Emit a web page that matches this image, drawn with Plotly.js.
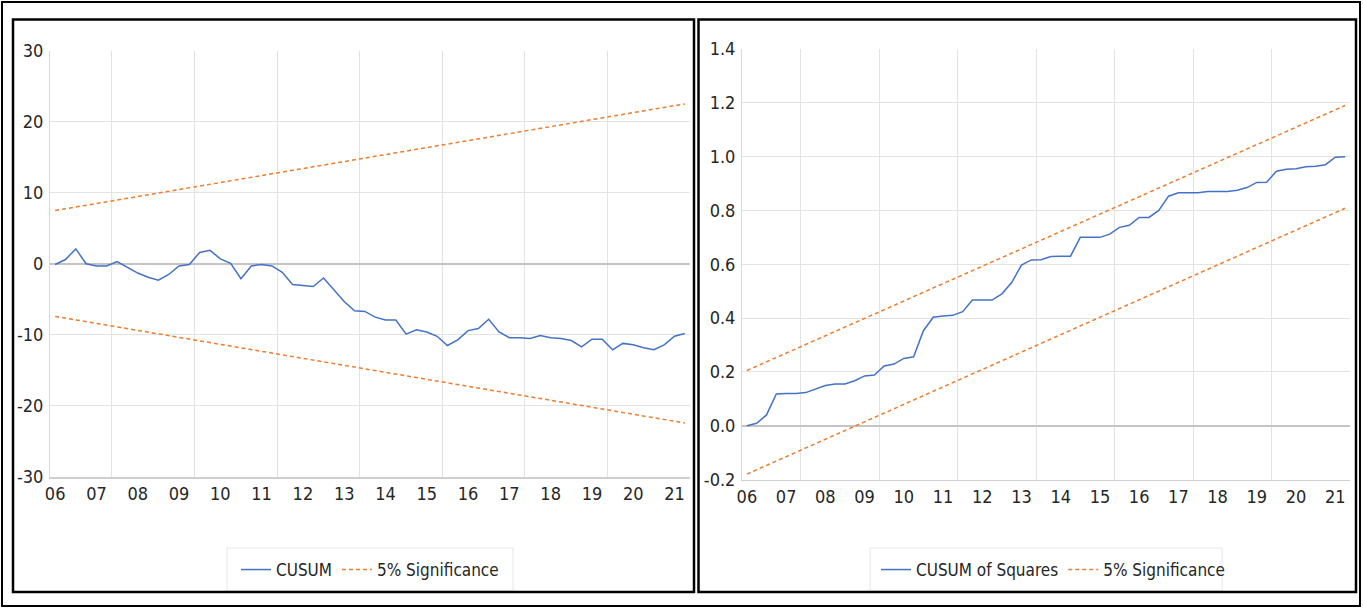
<!DOCTYPE html>
<html>
<head>
<meta charset="utf-8">
<script src="https://cdn.plot.ly/plotly-3.0.1.min.js"></script>
<style>
  html, body { margin: 0; padding: 0; background: #ffffff; }
  #chart { width: 1363px; height: 608px; }
</style>
</head>
<body>
<div id="chart"></div>
<script>
// ---------- DATA (quarterly, 2006Q1 .. 2021Q2) ----------
const yearLabels = ["06","07","08","09","10","11","12","13","14","15","16","17","18","19","20","21"];

const cusum = [
  -0.1, 0.6, 2.1, 0.0, -0.3, -0.3, 0.3, -0.5, -1.3, -1.9,
  -2.3, -1.5, -0.3, -0.1, 1.6, 1.9, 0.7, 0.05, -2.1, -0.3,
  -0.1, -0.3, -1.2, -2.9, -3.0, -3.2, -2.0, -3.6, -5.3, -6.6,
  -6.7, -7.5, -7.9, -7.9, -9.9, -9.3, -9.6, -10.2, -11.5, -10.7,
  -9.4, -9.1, -7.8, -9.6, -10.4, -10.4, -10.5, -10.1, -10.4, -10.5,
  -10.8, -11.7, -10.6, -10.6, -12.1, -11.2, -11.4, -11.8, -12.1, -11.4,
  -10.2, -9.8
];
const cusumSigUpper = [7.5, 22.5];
const cusumSigLower = [-7.4, -22.4];

const cusumSq = [
  0.0, 0.009, 0.04, 0.118, 0.12, 0.12, 0.123, 0.135, 0.149, 0.155,
  0.155, 0.167, 0.185, 0.188, 0.222, 0.229, 0.25, 0.256, 0.353, 0.403,
  0.408, 0.41, 0.424, 0.467, 0.467, 0.467, 0.49, 0.532, 0.597, 0.616,
  0.617, 0.629, 0.63, 0.63, 0.70, 0.70, 0.70, 0.712, 0.737, 0.745,
  0.774, 0.774, 0.80, 0.853, 0.866, 0.866, 0.866, 0.87, 0.87, 0.87,
  0.875, 0.885, 0.904, 0.905, 0.946, 0.953, 0.955, 0.962, 0.964, 0.97,
  0.998, 1.0
];
const cusumSqSigUpper = [0.205, 1.19];
const cusumSqSigLower = [-0.18, 0.808];

const leftYTicks = [-30, -20, -10, 0, 10, 20, 30];
const leftYTickText = ["-30", "-20", "-10", "0", "10", "20", "30"];
const rightYTicks = [-0.2, 0.0, 0.2, 0.4, 0.6, 0.8, 1.0, 1.2, 1.4];
const rightYTickText = ["-0.2", "0.0", "0.2", "0.4", "0.6", "0.8", "1.0", "1.2", "1.4"];

// ---------- helpers ----------
const W = 1363, H = 608;
const px = v => v / W;
const py = v => 1 - v / H;

const idx = cusum.map((_, i) => i);
const endIdx = [0, cusum.length - 1];
const labelPos = yearLabels.map((_, k) => k * 4);
const vGrid = [5.5, 13.5, 21.5, 29.5, 37.5, 45.5, 53.5];

const BLUE = "#4472C4", ORANGE = "#ED7D31";
const FONT = "'DejaVu Sans Condensed', 'Liberation Sans Narrow', 'Open Sans', sans-serif";
const TXT = "#262626";

const traces = [
  { x: idx, y: cusum, type: "scatter", mode: "lines", name: "CUSUM",
    line: { color: BLUE, width: 1.5 }, xaxis: "x", yaxis: "y", legend: "legend" },
  { x: endIdx, y: cusumSigUpper, type: "scatter", mode: "lines", name: "5% Significance",
    line: { color: ORANGE, width: 1.5, dash: "4px,3px" }, xaxis: "x", yaxis: "y", legend: "legend" },
  { x: endIdx, y: cusumSigLower, type: "scatter", mode: "lines", name: "5% Significance",
    line: { color: ORANGE, width: 1.5, dash: "4px,3px" }, xaxis: "x", yaxis: "y", showlegend: false },
  { x: idx, y: cusumSq, type: "scatter", mode: "lines", name: "CUSUM of Squares",
    line: { color: BLUE, width: 1.5 }, xaxis: "x2", yaxis: "y2", legend: "legend2" },
  { x: endIdx, y: cusumSqSigUpper, type: "scatter", mode: "lines", name: "5% Significance",
    line: { color: ORANGE, width: 1.5, dash: "4px,3px" }, xaxis: "x2", yaxis: "y2", legend: "legend2" },
  { x: endIdx, y: cusumSqSigLower, type: "scatter", mode: "lines", name: "5% Significance",
    line: { color: ORANGE, width: 1.5, dash: "4px,3px" }, xaxis: "x2", yaxis: "y2", showlegend: false },
  // grid-only overlay subplots
  { x: [], y: [], type: "scatter", mode: "lines", xaxis: "x3", yaxis: "y3", showlegend: false, hoverinfo: "skip" },
  { x: [], y: [], type: "scatter", mode: "lines", xaxis: "x4", yaxis: "y4", showlegend: false, hoverinfo: "skip" }
];

const LD = [px(50), px(690)], LY = [py(477), py(50.6)];
const RD = [px(742), px(1350)], RY = [py(479.5), py(49)];
const XR = [-0.5, 61.5];
const tickFont = { family: FONT, size: 18, color: TXT };
const legFont = { family: FONT, size: 17, color: TXT };

const baseX = (dom, anchor) => ({
  domain: dom, anchor: anchor, range: XR, tickmode: "array", tickvals: labelPos, ticktext: yearLabels,
  showgrid: false, zeroline: false, showline: true, linecolor: "#cfcfcf", linewidth: 1.5,
  ticks: "", tickfont: tickFont, fixedrange: true
});
const gridX = (dom, anchor, over) => ({
  domain: dom, anchor: anchor, overlaying: over, range: XR, tickmode: "array", tickvals: vGrid,
  showticklabels: false, showgrid: true, gridcolor: "#e3e3e3", gridwidth: 1, zeroline: false, ticks: ""
});

const layout = {
  width: W, height: H,
  margin: { l: 0, r: 0, t: 0, b: 0 },
  paper_bgcolor: "#ffffff", plot_bgcolor: "rgba(0,0,0,0)",
  font: { family: FONT, color: TXT },
  showlegend: true,
  xaxis: baseX(LD, "y"),
  yaxis: { domain: LY, anchor: "x", range: [-30, 30], tickmode: "array", tickvals: leftYTicks, ticktext: leftYTickText,
    showgrid: false, zeroline: false, showline: true, linecolor: "#d9d9d9", linewidth: 1, ticks: "",
    tickfont: tickFont, ticklabelstandoff: 2 },
  xaxis2: baseX(RD, "y2"),
  yaxis2: { domain: RY, anchor: "x2", range: [-0.2, 1.4], tickmode: "array", tickvals: rightYTicks, ticktext: rightYTickText,
    showgrid: false, zeroline: false, showline: true, linecolor: "#d9d9d9", linewidth: 1, ticks: "",
    tickfont: tickFont, ticklabelstandoff: 2 },
  xaxis3: gridX(LD, "y3", "x"),
  yaxis3: { domain: LY, anchor: "x3", overlaying: "y", range: [-30, 30], tickmode: "array", tickvals: [-20, -10, 10, 20],
    showticklabels: false, showgrid: true, gridcolor: "#e3e3e3", zeroline: true, zerolinecolor: "#c4c4c4", zerolinewidth: 2, ticks: "" },
  xaxis4: gridX(RD, "y4", "x2"),
  yaxis4: { domain: RY, anchor: "x4", overlaying: "y2", range: [-0.2, 1.4], tickmode: "array", tickvals: [0.2, 0.4, 0.6, 0.8, 1.0, 1.2],
    showticklabels: false, showgrid: true, gridcolor: "#e3e3e3", zeroline: true, zerolinecolor: "#c4c4c4", zerolinewidth: 2, ticks: "" },
  legend: { orientation: "h", x: px(236), y: py(570), xanchor: "left", yanchor: "middle",
    bgcolor: "rgba(0,0,0,0)", borderwidth: 0, font: legFont },
  legend2: { orientation: "h", x: px(876), y: py(570), xanchor: "left", yanchor: "middle",
    bgcolor: "rgba(0,0,0,0)", borderwidth: 0, font: legFont },
  shapes: [
    { type: "rect", xref: "paper", yref: "paper", x0: px(2), x1: px(1360), y0: py(2), y1: py(606),
      line: { color: "#000", width: 2 } },
    { type: "rect", xref: "paper", yref: "paper", x0: px(13), x1: px(694), y0: py(19.5), y1: py(592),
      line: { color: "#000", width: 2.5 } },
    { type: "rect", xref: "paper", yref: "paper", x0: px(698.5), x1: px(1356), y0: py(19.5), y1: py(592),
      line: { color: "#000", width: 2.5 } },
    { type: "rect", xref: "paper", yref: "paper", x0: px(227), x1: px(513), y0: py(548), y1: py(591),
      line: { color: "#e6e6e6", width: 1 }, layer: "below" },
    { type: "rect", xref: "paper", yref: "paper", x0: px(870), x1: px(1222), y0: py(548), y1: py(591),
      line: { color: "#e6e6e6", width: 1 }, layer: "below" }
  ]
};

Plotly.newPlot("chart", traces, layout, { displayModeBar: false, staticPlot: true });
</script>
</body>
</html>
